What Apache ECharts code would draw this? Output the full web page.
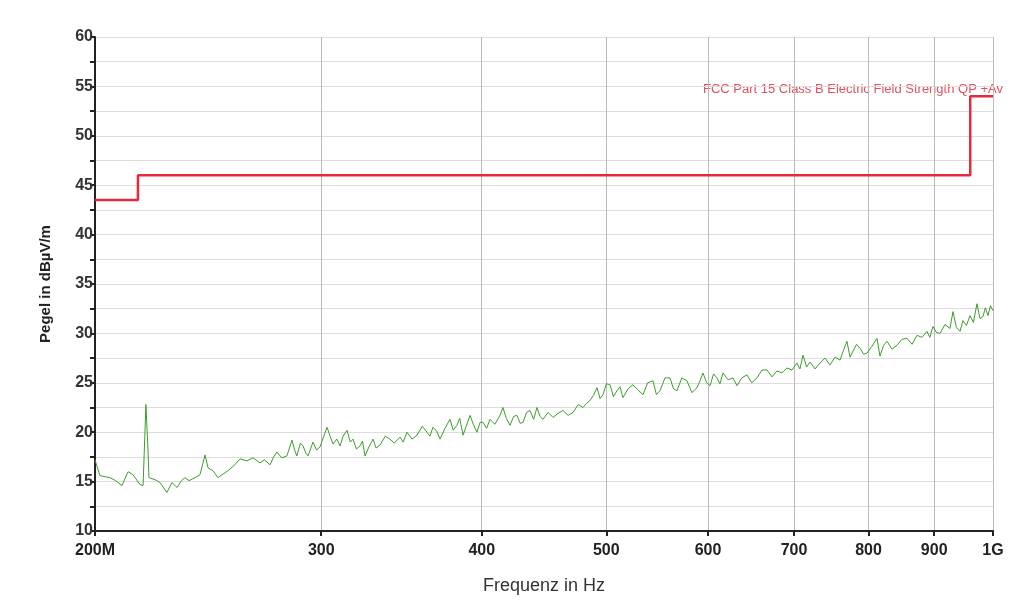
<!DOCTYPE html>
<html>
<head>
<meta charset="utf-8">
<script src="https://cdn.jsdelivr.net/npm/echarts@6/dist/echarts.min.js"></script>
<style>
  html, body { margin: 0; padding: 0; background: #fff; }
  #chart { width: 1013px; height: 600px; }
</style>
</head>
<body>
<div id="chart"></div>
<script>
// frequency ticks (MHz) on the log axis
var freqTicks = [200, 300, 400, 500, 600, 700, 800, 900, 1000];

// FCC Part 15 class B limit (step line)
var limitFreq = [200, 216, 216, 960, 960, 1000];
var limitLevel = [43.5, 43.5, 46, 46, 54, 54];

var measFreq = [
    200.0, 200.7, 201.8, 205.4, 207.5, 209.9, 212.2, 214.1, 216.8, 218.0,
    219.1, 219.9, 220.3, 222.7, 224.7, 227.5, 229.6, 231.7, 233.5, 235.0,
    236.7, 239.3, 241.4, 243.6, 244.9, 247.1, 249.3, 253.8, 256.5, 259.4,
    262.6, 265.5, 268.8, 271.0, 273.7, 275.5, 277.1, 279.5, 282.1, 284.7,
    286.0, 287.2, 289.0, 290.4, 291.8, 293.0, 295.6, 297.5, 299.3, 301.0,
    303.1, 304.8, 306.4, 308.5, 310.3, 312.0, 314.2, 316.0, 317.6, 319.5,
    321.6, 323.0, 324.5, 327.0, 329.2, 331.0, 333.3, 336.5, 339.3, 342.0,
    345.5, 347.5, 349.8, 353.0, 356.2, 359.5, 362.6, 364.5, 366.5, 369.0,
    371.2, 374.5, 377.9, 380.0, 382.6, 384.5, 386.8, 389.0, 391.7, 394.0,
    396.6, 398.8, 400.9, 403.5, 406.0, 409.5, 413.3, 415.5, 418.0, 420.8,
    423.5, 426.1, 428.5, 430.7, 433.5, 436.1, 439.0, 441.6, 444.0, 446.4,
    450.5, 454.5, 458.5, 462.7, 467.0, 471.1, 475.5, 479.6, 482.5, 485.6,
    488.5, 491.8, 494.5, 497.1, 500.2, 503.4, 506.5, 509.7, 512.5, 515.2,
    520.0, 524.5, 529.0, 534.0, 538.5, 543.7, 547.0, 550.5, 555.5, 560.5,
    564.0, 567.6, 572.5, 577.8, 583.0, 588.3, 591.5, 594.7, 598.5, 602.2,
    606.0, 609.8, 613.0, 616.4, 622.0, 627.5, 632.0, 637.5, 643.4, 649.0,
    655.1, 661.0, 666.9, 673.0, 679.0, 685.0, 691.3, 697.5, 703.8, 707.5,
    711.4, 716.0, 720.4, 727.0, 733.4, 740.0, 746.6, 753.5, 760.2, 765.0,
    769.7, 774.0, 778.1, 783.0, 787.9, 793.0, 797.8, 805.0, 812.3, 816.6,
    822.0, 827.0, 834.5, 841.9, 849.5, 857.1, 865.0, 872.6, 880.5, 888.4,
    893.0, 898.0, 903.5, 909.4, 917.5, 925.8, 930.8, 936.5, 942.6, 947.6,
    953.5, 959.6, 965.5, 971.7, 977.0, 982.2, 986.5, 991.0, 995.5, 1000
];
var measLevel = [
    17.2, 17.1, 15.6, 15.4, 15.1, 14.6, 16.0, 15.7, 14.7, 14.6,
    22.8, 18.4, 15.4, 15.2, 14.9, 13.9, 14.9, 14.4, 15.1, 15.4,
    15.1, 15.4, 15.7, 17.7, 16.4, 16.1, 15.4, 16.1, 16.6, 17.3,
    17.1, 17.4, 16.9, 17.2, 16.7, 17.5, 18.0, 17.4, 17.6, 19.2,
    18.2, 17.6, 18.9, 18.6, 17.9, 17.6, 19.0, 18.2, 18.5, 19.4,
    20.5, 19.6, 18.8, 19.3, 18.6, 19.6, 20.2, 19.0, 19.3, 18.3,
    18.6, 19.1, 17.6, 18.6, 19.3, 18.4, 18.7, 19.6, 19.3, 18.9,
    19.5, 19.0, 20.0, 19.3, 19.7, 20.6, 20.0, 19.6, 20.5, 20.1,
    19.3, 20.4, 21.3, 20.2, 20.7, 21.4, 19.7, 20.6, 21.7, 20.8,
    20.0, 21.0, 21.0, 20.4, 21.3, 20.8, 21.7, 22.5, 21.4, 20.7,
    21.6, 21.7, 20.9, 21.0, 22.0, 22.2, 21.3, 22.5, 21.6, 21.3,
    22.0, 21.5, 21.9, 22.2, 21.7, 22.0, 22.8, 22.5, 22.9, 23.2,
    23.7, 24.5, 23.4, 23.8, 24.9, 24.8, 23.6, 24.2, 24.6, 23.5,
    24.4, 24.8, 24.3, 23.8, 25.0, 25.2, 23.8, 24.2, 25.5, 25.5,
    24.4, 24.2, 25.5, 25.2, 24.0, 24.5, 25.2, 26.0, 25.0, 24.7,
    25.9, 25.5, 24.9, 26.0, 25.3, 25.5, 24.7, 25.5, 25.8, 25.0,
    25.5, 26.3, 26.3, 25.6, 26.2, 26.0, 26.5, 26.3, 27.0, 26.4,
    27.8, 26.6, 27.1, 26.4, 27.0, 27.5, 26.8, 27.6, 27.3, 28.3,
    29.2, 27.6, 28.2, 28.9, 28.5, 27.9, 28.0, 28.7, 29.5, 27.7,
    28.8, 29.2, 28.4, 28.8, 29.4, 29.5, 28.9, 29.8, 29.6, 30.2,
    29.6, 30.7, 30.1, 30.0, 30.9, 30.5, 32.2, 30.6, 30.2, 31.3,
    30.8, 31.8, 31.1, 33.0, 31.5, 31.7, 32.6, 31.8, 32.8, 32.3
];

function pairs(xs, ys) {
    var out = [];
    for (var i = 0; i < xs.length; i++) out.push([xs[i], ys[i]]);
    return out;
}

var chart = echarts.init(document.getElementById('chart'));
chart.setOption({
    backgroundColor: '#fff',
    animation: false,
    textStyle: { fontFamily: 'Liberation Sans, Arial, sans-serif' },
    grid: { left: 95, right: 20, top: 37, bottom: 66 },
    xAxis: {
        type: 'log',
        min: 200,
        max: 1000,
        name: 'Frequenz in Hz',
        nameLocation: 'middle',
        nameGap: 46,
        nameTextStyle: { fontSize: 18, color: '#333' },
        axisLine: { lineStyle: { color: '#222', width: 2 } },
        axisTick: { customValues: freqTicks, length: 5, lineStyle: { color: '#222', width: 2 } },
        axisLabel: {
            customValues: freqTicks,
            fontSize: 16,
            fontWeight: 'bold',
            color: '#222',
            margin: 12,
            formatter: function (v) {
                var r = Math.round(v);
                if (r === 200) return '200M';
                if (r === 1000) return '1G';
                return String(r);
            }
        },
        splitLine: { show: true, lineStyle: { color: '#bbb', width: 1 } },
        minorTick: { show: false },
        minorSplitLine: { show: false }
    },
    yAxis: {
        type: 'value',
        min: 10,
        max: 60,
        interval: 5,
        name: 'Pegel in dBµV/m',
        nameLocation: 'middle',
        nameGap: 42,
        nameTextStyle: { fontSize: 15, fontWeight: 'bold', color: '#222' },
        axisLine: { show: true, lineStyle: { color: '#222', width: 2 } },
        axisTick: { show: true, length: 5, lineStyle: { color: '#222', width: 2 } },
        minorTick: { show: true, splitNumber: 2, length: 5, lineStyle: { color: '#222', width: 2 } },
        axisLabel: { fontSize: 16, fontWeight: 'bold', color: '#333', margin: 2 },
        splitLine: { show: true, lineStyle: { color: '#ddd', width: 1 } },
        minorSplitLine: { show: true, lineStyle: { color: '#ddd', width: 1 } }
    },
    graphic: [{
        type: 'text',
        left: 703,
        top: 83,
        style: {
            text: 'FCC Part 15 Class B Electric Field Strength QP +Av',
            fill: '#e0505f',
            fontSize: 13,
            fontFamily: 'Liberation Sans, Arial, sans-serif'
        }
    }],
    series: [
        {
            name: 'Limit',
            type: 'line',
            symbol: 'none',
            data: pairs(limitFreq, limitLevel),
            lineStyle: { color: '#e8283c', width: 2.5 },
            z: 3
        },
        {
            name: 'Messung',
            type: 'line',
            symbol: 'none',
            data: pairs(measFreq, measLevel),
            lineStyle: { color: '#3d9e2c', width: 1 },
            z: 2
        }
    ]
});
</script>
</body>
</html>
